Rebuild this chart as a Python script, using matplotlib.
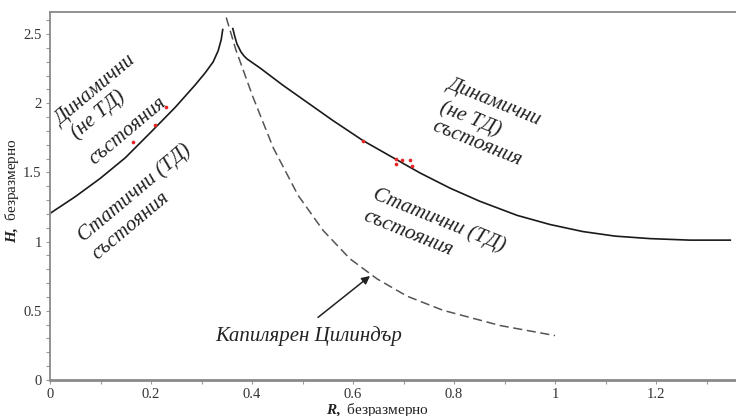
import matplotlib
matplotlib.use("Agg")
import matplotlib.pyplot as plt
from matplotlib.ticker import MultipleLocator, FuncFormatter

plt.rcParams["font.family"] = ["Liberation Serif", "DejaVu Serif"]
plt.rcParams["mathtext.fontset"] = "custom"
plt.rcParams["mathtext.rm"] = "Liberation Serif"
plt.rcParams["mathtext.bf"] = "Liberation Serif:italic:bold"

# left boundary (static / dynamic)
left_r = [0.0, 0.050, 0.099, 0.149, 0.198, 0.248, 0.287, 0.307, 0.323, 0.333, 0.339, 0.342]
left_h = [1.204, 1.325, 1.456, 1.606, 1.785, 1.971, 2.131, 2.219, 2.299, 2.380, 2.460, 2.533]

# right boundary
right_r = [0.362, 0.366, 0.370, 0.378, 0.384, 0.390, 0.416, 0.461, 0.560, 0.620,
           0.687, 0.733, 0.792, 0.851, 0.925, 0.990, 1.055, 1.119, 1.188, 1.267, 1.347]
right_h = [2.540, 2.482, 2.431, 2.372, 2.343, 2.321, 2.255, 2.131, 1.876, 1.730,
           1.591, 1.496, 1.387, 1.292, 1.190, 1.124, 1.073, 1.040, 1.022, 1.011, 1.011]

# capillary cylinder (dashed)
cyl_r = [0.349, 0.368, 0.402, 0.442, 0.491, 0.541, 0.594, 0.648, 0.707, 0.778,
         0.891, 1.0]
cyl_h = [2.620, 2.387, 2.044, 1.679, 1.336, 1.080, 0.876, 0.730, 0.606, 0.504,
         0.394, 0.321]

# experimental points
pts_r = [0.164, 0.208, 0.230, 0.620, 0.686, 0.686, 0.697, 0.713, 0.717]
pts_h = [1.72, 1.84, 1.97, 1.73, 1.60, 1.56, 1.59, 1.59, 1.55]


def px(x, y):
    # pixel position in the reference -> data coords
    return (x - 50) / 505.0, (380 - y) / 137.0


fig = plt.figure(figsize=(7.36, 4.16), dpi=100)
# x scale 505 px per unit, right spine falls just outside the picture
ax = fig.add_axes([50 / 736, 36 / 416, 702 / 736, 368 / 416])

ax.plot(left_r, left_h, color="#1a1a1a", lw=1.2)
ax.plot(right_r, right_h, color="#1a1a1a", lw=1.2)
ax.plot(cyl_r, cyl_h, color="#555555", lw=1.1, dashes=(6, 3))
ax.scatter(pts_r, pts_h, s=7, color="#e82424", zorder=3, linewidths=0)

ax.set_xlim(0, 1.39)
ax.set_ylim(0, 2.66)
ax.xaxis.set_major_locator(MultipleLocator(0.2))
ax.xaxis.set_minor_locator(MultipleLocator(0.1))
ax.yaxis.set_major_locator(MultipleLocator(0.5))
ax.yaxis.set_minor_locator(MultipleLocator(0.1))
ax.xaxis.set_major_formatter(FuncFormatter(lambda v, p: f"{v:g}"))
ax.yaxis.set_major_formatter(FuncFormatter(lambda v, p: f"{v:g}"))
ax.tick_params(which="both", direction="out", color="#999999", labelcolor="#333333",
               labelsize=10.5, length=3, width=0.8, pad=3)

for s in ax.spines.values():
    s.set_color("#8a8a8a")
    s.set_linewidth(1.3)
ax.spines["bottom"].set_linewidth(2)

ax.set_xlabel(r"$\mathbf{R,}$ безразмерно", fontsize=11, color="#222222")
ax.xaxis.set_label_coords(0.467, -0.057)
ax.set_ylabel(r"$\mathbf{H,}$ безразмерно", fontsize=11, color="#222222")
ax.yaxis.set_label_coords(-0.041, 0.516)

txt = dict(fontsize=15, style="italic", color="#222222", ha="center", va="center",
           rotation_mode="anchor")

# region labels, one line at a time (centres)
ax.text(*px(96, 94), "Динамични", rotation=40, **txt)
ax.text(*px(98, 117), "(не ТД)", rotation=40, **txt)
ax.text(*px(128, 133), "състояния", rotation=40, **txt)
ax.text(*px(135, 195), "Статични (ТД)", rotation=40, **txt)
ax.text(*px(131, 228), "състояния", rotation=40, **txt)

ax.text(*px(494, 105), "Динамични", rotation=-22, **txt)
ax.text(*px(470, 121), "(не ТД)", rotation=-22, **txt)
ax.text(*px(477, 146), "състояния", rotation=-22, **txt)
ax.text(*px(439, 222), "Статични (ТД)", rotation=-22, **txt)
ax.text(*px(408, 235), "състояния", rotation=-22, **txt)

ax.annotate("", xy=px(370, 277), xytext=px(318, 318),
            arrowprops=dict(arrowstyle="-|>", color="#222222", lw=1.1,
                            mutation_scale=12, shrinkA=0, shrinkB=0))
ax.text(*px(309, 336), "Капилярен Цилиндър", fontsize=15, style="italic",
        color="#222222", ha="center", va="center")

fig.savefig("out.png", dpi=100)
